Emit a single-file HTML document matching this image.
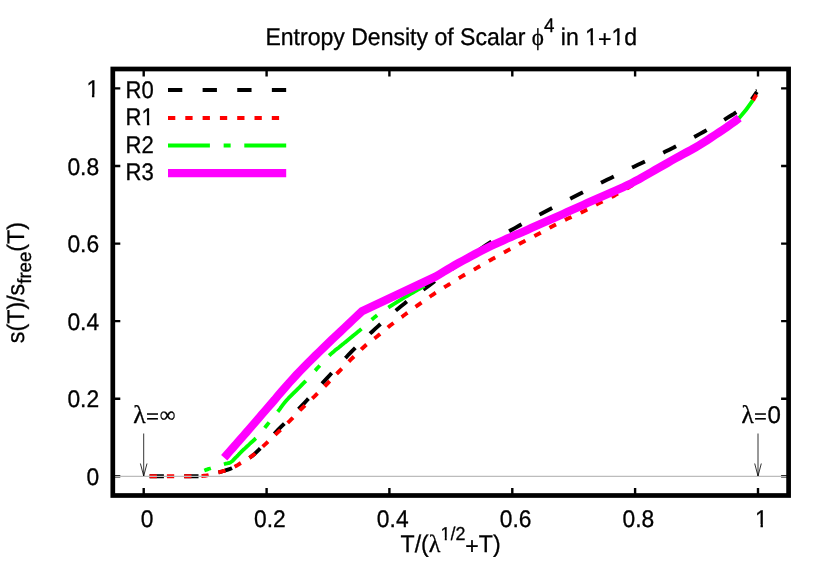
<!DOCTYPE html><html><head><meta charset="utf-8"><title>Entropy Density</title>
<style>html,body{margin:0;padding:0;background:#fff}svg{display:block;will-change:transform}text{font-family:"Liberation Sans",sans-serif;fill:#000;stroke:#000;stroke-width:.3px;text-rendering:geometricPrecision}.sy{font-family:"Liberation Serif",serif}</style></head><body>
<svg width="830" height="581" viewBox="0 0 830 581">
<rect width="830" height="581" fill="#fff"/>
<g stroke="#000" stroke-width="2.4" fill="none"><path d="M143.7,495.5V488.0M143.7,69.0V76.5"/><path d="M112.8,476.3H120.3M788.6,476.3H781.1"/><path d="M266.6,495.5V488.0M266.6,69.0V76.5"/><path d="M112.8,398.7H120.3M788.6,398.7H781.1"/><path d="M389.4,495.5V488.0M389.4,69.0V76.5"/><path d="M112.8,321.1H120.3M788.6,321.1H781.1"/><path d="M512.3,495.5V488.0M512.3,69.0V76.5"/><path d="M112.8,243.6H120.3M788.6,243.6H781.1"/><path d="M635.1,495.5V488.0M635.1,69.0V76.5"/><path d="M112.8,166.0H120.3M788.6,166.0H781.1"/><path d="M758.0,495.5V488.0M758.0,69.0V76.5"/><path d="M112.8,88.4H120.3M788.6,88.4H781.1"/></g>
<g fill="none" stroke-linejoin="round">
<path d="M149.6,476.3 L154.9,476.3 L160.4,476.3 L166.1,476.3 L171.7,476.3 L177.1,476.3 L182.0,476.3 L186.4,476.3 L190.0,476.3 L192.7,476.3 L194.7,476.3 L196.1,476.3 L197.0,476.3 L197.7,476.2 L198.4,476.2 L199.1,476.2 L200.0,476.1 L201.1,476.0 L202.1,476.0 L203.0,475.9 L204.0,475.8 L204.9,475.7 L205.9,475.6 L206.9,475.4 L208.0,475.2 L209.2,474.9 L210.6,474.6 L212.0,474.2 L213.4,473.8 L214.9,473.4 L216.3,473.0 L217.5,472.6 L218.7,472.3 L219.7,472.0 L220.6,471.8 L221.4,471.6 L222.2,471.4 L222.9,471.2 L223.6,471.0 L224.4,470.8 L225.2,470.5 L226.0,470.2 L226.8,470.0 L227.7,469.7 L228.5,469.5 L229.3,469.2 L230.2,468.8 L231.1,468.5 L232.1,468.0 L233.1,467.5 L234.2,467.0 L235.2,466.4 L236.4,465.7 L237.5,465.1 L238.7,464.3 L240.0,463.5 L241.4,462.7 L242.8,461.9 L244.3,461.0 L245.7,460.2 L247.3,459.3 L249.0,458.2 L250.7,457.0 L252.6,455.6 L254.6,453.9 L256.7,451.9 L259.0,449.7 L261.4,447.3 L263.8,444.7 L266.4,442.0 L269.2,439.1 L272.0,436.1 L275.0,433.0 L278.2,429.7 L281.7,426.2 L285.4,422.5 L289.1,418.7 L292.9,414.8 L296.7,411.0 L300.2,407.3 L303.6,403.8 L306.7,400.5 L309.7,397.3 L312.5,394.2 L315.3,391.1 L318.0,388.0 L320.8,385.0 L323.6,381.8 L326.6,378.6 L329.7,375.2 L332.8,371.8 L336.1,368.2 L339.3,364.7 L342.5,361.1 L345.8,357.7 L348.9,354.3 L352.0,351.1 L355.0,348.1 L357.9,345.2 L360.7,342.4 L363.5,339.7 L366.3,337.0 L369.2,334.4 L372.1,331.7 L375.1,328.9 L378.2,326.1 L381.4,323.2 L384.6,320.2 L387.9,317.3 L391.3,314.4 L394.6,311.6 L398.0,308.7 L401.3,306.0 L404.5,303.5 L407.3,301.2 L410.1,299.1 L413.0,297.0 L416.1,294.8 L419.6,292.2 L423.7,289.3 L428.6,285.8 L434.5,281.5 L441.5,276.5 L449.2,271.0 L457.2,265.3 L465.2,259.6 L473.0,254.2 L480.0,249.3 L486.0,245.2 L491.0,241.9 L495.2,239.3 L498.8,237.0 L502.1,235.1 L505.2,233.4 L508.2,231.8 L511.3,230.0 L514.8,228.1 L518.5,226.0 L522.2,223.9 L526.0,221.9 L529.8,219.8 L533.6,217.8 L537.4,215.7 L541.2,213.7 L545.0,211.7 L548.8,209.7 L552.7,207.7 L556.6,205.7 L560.5,203.7 L564.3,201.7 L568.2,199.8 L572.1,197.8 L576.0,195.8 L579.9,193.8 L583.8,191.8 L587.6,189.8 L591.5,187.7 L595.4,185.7 L599.3,183.7 L603.1,181.8 L607.0,179.8 L610.9,177.9 L614.7,176.0 L618.6,174.1 L622.4,172.2 L626.3,170.4 L630.1,168.5 L634.0,166.7 L637.9,164.8 L641.8,162.9 L645.7,161.0 L649.7,159.2 L653.6,157.3 L657.6,155.4 L661.5,153.5 L665.4,151.6 L669.3,149.7 L673.2,147.8 L677.0,145.8 L680.9,143.9 L684.7,142.0 L688.5,140.0 L692.3,138.0 L696.1,136.0 L699.9,133.9 L703.8,131.7 L708.0,129.3 L712.2,126.9 L716.3,124.4 L720.3,122.1 L724.0,119.9 L727.2,117.9 L729.9,116.3 L732.0,115.0 L733.5,114.1 L734.5,113.4 L735.3,112.9 L735.9,112.4 L736.5,112.0 L737.1,111.6 L738.0,111.0" stroke="#000" stroke-width="3.9" stroke-dasharray="14.3 20.32"/>
<path d="M751.7,99.3L756.9,91.9" stroke="#000" stroke-width="3.9"/><path d="M756.6,91.5L756,89.2" stroke="#000" stroke-width="1"/>
<path d="M149.6,476.3 L154.9,476.3 L160.4,476.3 L166.1,476.3 L171.7,476.3 L177.1,476.3 L182.0,476.3 L186.4,476.3 L190.0,476.3 L192.7,476.3 L194.7,476.3 L196.1,476.3 L197.0,476.3 L197.7,476.2 L198.4,476.2 L199.1,476.2 L200.0,476.1 L201.1,476.0 L202.1,476.0 L203.0,475.9 L204.0,475.8 L204.9,475.7 L205.9,475.6 L206.9,475.4 L208.0,475.2 L209.2,474.9 L210.6,474.6 L212.0,474.2 L213.4,473.8 L214.9,473.4 L216.3,473.0 L217.5,472.6 L218.7,472.3 L219.7,472.0 L220.6,471.8 L221.4,471.6 L222.2,471.4 L222.9,471.2 L223.6,471.0 L224.4,470.8 L225.2,470.5 L226.0,470.2 L226.8,470.0 L227.7,469.7 L228.5,469.5 L229.3,469.2 L230.2,468.8 L231.1,468.5 L232.1,468.0 L233.1,467.5 L234.2,467.0 L235.2,466.4 L236.4,465.7 L237.5,465.1 L238.7,464.3 L240.0,463.5 L241.4,462.7 L242.8,461.8 L244.3,461.0 L245.7,460.1 L247.3,459.1 L249.0,458.1 L250.7,456.9 L252.6,455.5 L254.6,453.9 L256.8,452.0 L259.3,449.8 L261.9,447.4 L264.6,444.9 L267.3,442.3 L270.0,439.7 L272.6,437.3 L275.0,435.0 L277.3,432.9 L279.5,430.8 L281.6,428.7 L283.7,426.7 L285.7,424.8 L287.6,422.9 L289.5,421.1 L291.2,419.4 L292.8,417.8 L294.2,416.3 L295.6,414.9 L296.8,413.6 L298.1,412.3 L299.3,411.0 L300.6,409.7 L302.0,408.3 L303.5,406.9 L305.0,405.4 L306.6,403.9 L308.2,402.4 L309.8,400.9 L311.4,399.4 L312.9,397.9 L314.5,396.4 L316.0,394.9 L317.5,393.4 L319.0,392.0 L320.5,390.5 L322.0,389.0 L323.5,387.5 L325.0,386.0 L326.5,384.5 L327.9,383.1 L329.2,381.7 L330.4,380.4 L331.7,379.1 L333.0,377.7 L334.5,376.0 L336.3,374.2 L338.5,372.0 L341.1,369.3 L344.2,366.2 L347.6,362.8 L351.2,359.2 L354.8,355.7 L358.3,352.3 L361.4,349.2 L364.1,346.7 L366.3,344.7 L368.3,343.1 L370.0,341.7 L371.5,340.6 L372.9,339.6 L374.3,338.6 L375.7,337.5 L377.3,336.3 L378.9,334.9 L380.6,333.6 L382.2,332.2 L383.9,330.8 L385.5,329.4 L387.2,328.0 L388.8,326.6 L390.5,325.3 L392.2,324.0 L393.9,322.7 L395.7,321.4 L397.4,320.1 L399.2,318.8 L400.9,317.5 L402.7,316.3 L404.4,315.0 L406.1,313.7 L407.9,312.5 L409.6,311.2 L411.3,309.9 L413.1,308.7 L414.8,307.4 L416.5,306.2 L418.3,304.9 L420.1,303.6 L421.8,302.4 L423.6,301.1 L425.4,299.8 L427.2,298.5 L429.0,297.3 L430.8,296.0 L432.6,294.8 L434.4,293.6 L436.2,292.4 L438.0,291.3 L439.8,290.1 L441.7,289.0 L443.5,287.9 L445.3,286.7 L447.1,285.6 L448.9,284.5 L450.7,283.3 L452.5,282.2 L454.3,281.1 L456.1,279.9 L457.9,278.8 L459.7,277.7 L461.5,276.6 L463.3,275.5 L465.2,274.4 L467.1,273.4 L469.0,272.3 L470.8,271.3 L472.7,270.2 L474.6,269.2 L476.5,268.1 L478.4,267.0 L480.2,266.0 L482.1,264.9 L484.0,263.8 L485.9,262.7 L487.7,261.6 L489.6,260.6 L491.5,259.5 L493.4,258.4 L495.3,257.4 L497.2,256.3 L499.1,255.2 L501.0,254.2 L502.9,253.1 L504.8,252.1 L506.7,251.0 L508.6,249.9 L510.5,248.9 L512.4,247.8 L514.3,246.7 L516.2,245.6 L518.1,244.6 L520.0,243.5 L521.9,242.5 L523.8,241.5 L525.6,240.5 L527.5,239.6 L529.4,238.7 L531.2,237.7 L533.1,236.8 L535.0,235.8 L536.9,234.8 L538.8,233.8 L540.8,232.7 L542.7,231.6 L544.7,230.6 L546.6,229.5 L548.6,228.4 L550.6,227.3 L552.5,226.3 L554.4,225.3 L556.4,224.3 L558.3,223.3 L560.2,222.4 L562.1,221.4 L564.0,220.5 L566.0,219.5 L567.9,218.6 L569.8,217.7 L571.8,216.8 L573.7,216.0 L575.6,215.1 L577.6,214.2 L579.5,213.4 L581.4,212.4 L583.4,211.5 L585.4,210.5 L587.4,209.5 L589.4,208.4 L591.4,207.3 L593.4,206.3 L595.4,205.2 L597.3,204.1 L599.3,203.1 L601.3,202.1 L603.2,201.1 L605.2,200.2 L607.1,199.2 L609.0,198.3 L610.9,197.3 L612.8,196.4 L614.7,195.4 L616.5,194.4 L618.3,193.4 L620.1,192.5 L621.9,191.5 L623.6,190.5 L625.4,189.4 L627.2,188.3 L629.1,187.2 L631.0,186.0 L633.0,184.7 L635.0,183.4 L637.0,182.0 L639.0,180.6 L641.0,179.2 L643.0,177.9 L645.0,176.5" stroke="#f00" stroke-width="3.9" stroke-dasharray="7.3 10.0"/>
<path d="M752.9,100.6L756.3,94.7" stroke="#f00" stroke-width="3.9"/>
<path d="M204.3,470.5 L205.1,470.2 L205.9,469.9 L206.6,469.7 L207.3,469.4 L208.1,469.1 L209.0,468.8 L210.0,468.5 L211.2,468.1 L212.6,467.7 L214.3,467.1 L216.1,466.6 L218.0,466.0 L219.9,465.4 L221.7,464.9 L223.3,464.4 L224.7,464.0 L225.8,463.7 L226.7,463.5 L227.5,463.3 L228.1,463.2 L228.7,463.1 L229.3,462.9 L229.9,462.7 L230.6,462.3 L231.3,461.8 L232.1,461.2 L232.8,460.6 L233.5,459.9 L234.2,459.1 L234.9,458.4 L235.6,457.7 L236.3,457.0 L237.0,456.3 L237.6,455.7 L238.3,455.0 L238.9,454.3 L239.5,453.7 L240.1,453.0 L240.8,452.3 L241.4,451.7 L242.0,451.1 L242.7,450.4 L243.4,449.8 L244.0,449.2 L244.7,448.6 L245.3,448.0 L246.0,447.4 L246.6,446.8 L247.2,446.2 L247.9,445.6 L248.5,445.1 L249.1,444.5 L249.7,443.9 L250.3,443.4 L250.9,442.8 L251.5,442.3 L252.1,441.8 L252.7,441.2 L253.3,440.7 L253.8,440.2 L254.4,439.7 L254.9,439.2 L255.4,438.7 L255.9,438.3 L256.3,437.9 L256.5,437.7 L256.7,437.5 L256.9,437.2 L257.2,437.0 L257.5,436.6 L257.9,436.1 L258.5,435.4 L259.3,434.5 L260.1,433.4 L261.1,432.2 L262.2,430.9 L263.4,429.5 L264.6,428.0 L265.8,426.5 L267.0,425.0 L268.3,423.4 L269.7,421.7 L271.1,420.0 L272.6,418.2 L274.0,416.4 L275.4,414.6 L276.8,412.9 L278.1,411.3 L279.2,409.9 L280.2,408.6 L281.0,407.3 L281.9,406.1 L282.8,404.9 L283.8,403.6 L285.1,402.0 L286.6,400.3 L288.5,398.2 L290.8,395.9 L293.3,393.4 L295.9,390.8 L298.6,388.2 L301.1,385.6 L303.5,383.2 L305.6,381.1 L307.4,379.2 L309.0,377.4 L310.5,375.8 L311.8,374.3 L313.1,372.8 L314.4,371.4 L315.8,369.9 L317.2,368.3 L318.7,366.7 L320.1,365.1 L321.5,363.5 L322.9,361.9 L324.4,360.3 L325.9,358.7 L327.5,357.1 L329.2,355.5 L331.0,353.9 L332.9,352.3 L334.8,350.6 L336.8,349.0 L338.9,347.4 L340.9,345.7 L343.0,344.1 L345.0,342.4 L347.1,340.7 L349.2,339.0 L351.3,337.3 L353.4,335.5 L355.6,333.8 L357.6,332.1 L359.6,330.5 L361.5,328.9 L363.3,327.4 L364.9,325.9 L366.5,324.5 L368.0,323.1 L369.5,321.7 L371.0,320.3 L372.5,319.0 L374.2,317.6 L375.9,316.3 L377.7,314.9 L379.5,313.6 L381.3,312.3 L383.2,311.0 L385.1,309.8 L387.0,308.5 L388.9,307.2 L390.9,305.9 L392.9,304.6 L394.9,303.4 L396.9,302.1 L399.0,300.8 L401.0,299.6 L403.0,298.4 L405.0,297.2 L407.0,296.0 L409.0,294.8 L411.1,293.6 L413.1,292.5 L415.0,291.4 L416.8,290.3 L418.5,289.4 L420.0,288.5 L421.3,287.8 L422.3,287.2 L423.2,286.6 L424.0,286.2 L424.7,285.7 L425.4,285.3 L426.2,284.9 L427.0,284.4" stroke="#0f0" stroke-width="3.8" stroke-dasharray="41.9 13.75 7 13.65" stroke-dashoffset="55.7"/>
<path d="M736.5,120.5L739.2,118Q746.5,110 752.8,100.4" stroke="#0f0" stroke-width="3.8"/>
<path d="M224.2,457.7 L227.0,454.5 L229.7,451.4 L232.5,448.2 L235.3,445.1 L238.0,441.9 L240.8,438.8 L243.6,435.6 L246.3,432.5 L249.0,429.4 L251.6,426.4 L254.2,423.4 L256.8,420.4 L259.4,417.4 L262.1,414.2 L265.0,410.9 L268.0,407.4 L271.2,403.7 L274.6,399.8 L278.0,395.7 L281.6,391.5 L285.3,387.3 L288.9,383.1 L292.7,378.9 L296.4,374.9 L300.1,371.0 L303.9,367.1 L307.8,363.2 L311.6,359.4 L315.5,355.5 L319.5,351.6 L323.5,347.7 L327.6,343.8 L331.7,339.8 L336.0,335.8 L340.3,331.7 L344.6,327.6 L349.0,323.5 L353.3,319.4 L357.7,315.3 L362.0,311.2 L435.2,276.8 L439.2,274.4 L443.2,271.9 L447.2,269.6 L451.2,267.2 L455.2,264.9 L459.2,262.7 L463.2,260.5 L467.2,258.3 L471.2,256.1 L475.2,254.0 L479.2,251.9 L483.2,249.9 L487.2,247.9 L491.2,245.9 L495.2,244.0 L499.2,242.2 L503.2,240.4 L507.2,238.6 L511.2,236.9 L515.2,235.1 L519.2,233.4 L523.2,231.7 L527.2,229.9 L531.2,228.1 L535.2,226.3 L539.2,224.5 L543.2,222.8 L547.2,221.0 L551.2,219.2 L555.2,217.4 L559.2,215.7 L563.2,213.9 L567.2,212.1 L571.2,210.3 L575.2,208.5 L579.2,206.7 L583.2,204.9 L587.2,203.1 L591.2,201.3 L595.2,199.5 L599.2,197.7 L603.2,196.0 L607.2,194.3 L611.2,192.5 L615.2,190.8 L619.2,189.0 L623.2,187.2 L627.2,185.3 L631.2,183.3 L635.2,181.2 L639.2,179.1 L643.2,176.8 L647.2,174.5 L651.2,172.2 L655.2,169.9 L659.2,167.7 L663.2,165.4 L667.2,163.1 L671.2,160.8 L675.2,158.5 L679.2,156.3 L683.2,154.1 L687.2,152.0 L691.2,149.9 L695.2,147.6 L699.2,145.3 L703.2,142.8 L707.2,140.2 L711.2,137.5 L715.2,134.9 L719.2,132.3 L723.2,129.6 L727.2,126.9 L731.2,124.0 L735.2,121.1 L739.2,118.0" stroke="#f0f" stroke-width="8.2" stroke-linejoin="miter"/>
</g>
<path d="M112.8,476.3H788.6" stroke="#bcbcbc" stroke-width="1.3" fill="none"/>
<rect x="112.8" y="69.0" width="675.8" height="426.5" fill="none" stroke="#000" stroke-width="4.7"/>
<g fill="none">
<path d="M168.0,90.05H286.2" stroke="#000" stroke-width="3.9" stroke-dasharray="14.3 20.32"/>
<path d="M168.0,118H286.2" stroke="#f00" stroke-width="3.9" stroke-dasharray="7.3 10.0"/>
<path d="M168.0,145.5H286.2" stroke="#0f0" stroke-width="3.8" stroke-dasharray="41.9 13.75 7 13.65"/>
<path d="M168.0,173.2H286.2" stroke="#f0f" stroke-width="8.2"/>
</g>
<g transform="translate(125.60,98.30) scale(0.920,1.000)"><text font-size="24.00" text-anchor="start">R0</text></g>
<g transform="translate(125.60,125.30) scale(0.920,1.000)"><text font-size="24.00" text-anchor="start">R1</text><path fill="#fff" d="M18.05,-2.59h5.10v4.59h-5.10zM25.71,-2.59h4.95v4.59h-4.95z"/></g>
<g transform="translate(125.60,153.20) scale(0.920,1.000)"><text font-size="24.00" text-anchor="start">R2</text></g>
<g transform="translate(125.60,180.40) scale(0.920,1.000)"><text font-size="24.00" text-anchor="start">R3</text></g>
<path d="M143.7,433.5V476M140.4,463.5L143.7,476L147.0,463.5" stroke="#000" stroke-width="0.8" fill="none"/>
<path d="M758.0,433.5V476M754.7,463.5L758.0,476L761.3,463.5" stroke="#000" stroke-width="0.8" fill="none"/>
<g transform="translate(147.00,526.60) scale(0.950,1.000)"><text font-size="24.00" text-anchor="middle">0</text></g>
<g transform="translate(99.10,484.90) scale(0.950,1.000)"><text font-size="24.00" text-anchor="end">0</text></g>
<g transform="translate(269.86,526.60) scale(0.950,1.000)"><text font-size="24.00" text-anchor="middle">0.2</text></g>
<g transform="translate(99.10,407.32) scale(0.950,1.000)"><text font-size="24.00" text-anchor="end">0.2</text></g>
<g transform="translate(392.72,526.60) scale(0.950,1.000)"><text font-size="24.00" text-anchor="middle">0.4</text></g>
<g transform="translate(99.10,329.74) scale(0.950,1.000)"><text font-size="24.00" text-anchor="end">0.4</text></g>
<g transform="translate(515.58,526.60) scale(0.950,1.000)"><text font-size="24.00" text-anchor="middle">0.6</text></g>
<g transform="translate(99.10,252.16) scale(0.950,1.000)"><text font-size="24.00" text-anchor="end">0.6</text></g>
<g transform="translate(638.44,526.60) scale(0.950,1.000)"><text font-size="24.00" text-anchor="middle">0.8</text></g>
<g transform="translate(99.10,174.58) scale(0.950,1.000)"><text font-size="24.00" text-anchor="end">0.8</text></g>
<g transform="translate(761.30,526.60) scale(0.950,1.000)"><text font-size="24.00" text-anchor="middle">1</text><path fill="#fff" d="M-5.96,-2.59h5.10v4.59h-5.10zM1.70,-2.59h4.95v4.59h-4.95z"/></g>
<g transform="translate(99.10,97.00) scale(0.950,1.000)"><text font-size="24.00" text-anchor="end">1</text><path fill="#fff" d="M-12.64,-2.59h5.10v4.59h-5.10zM-4.98,-2.59h4.95v4.59h-4.95z"/></g>
<g transform="translate(265.40,44.60) scale(0.960,1.000)"><text font-size="24.00" text-anchor="start">Entropy Density of Scalar <tspan class="sy">ϕ</tspan><tspan dy="-13" font-size="19.6">4</tspan><tspan dy="13"> in 1</tspan><tspan dy="2">+</tspan><tspan dy="-2">1d</tspan></text><path fill="#fff" d="M333.74,-2.59h5.10v4.59h-5.10zM341.40,-2.59h4.95v4.59h-4.95z"/><path fill="#fff" d="M361.11,-2.59h5.10v4.59h-5.10zM368.77,-2.59h4.95v4.59h-4.95z"/></g>
<g transform="translate(400.60,551.80) scale(0.962,1.000)"><text font-size="24.00" text-anchor="start">T/(<tspan class="sy" font-size="25">λ</tspan><tspan dy="-12" font-size="18.6">1/2</tspan><tspan dy="14">+</tspan><tspan dy="-2">T)</tspan></text><path fill="#fff" d="M42.01,-14.19h3.90v4.19h-3.90zM47.99,-14.19h3.78v4.19h-3.78z"/></g>
<g transform="translate(23.80,343.20) scale(1.000,0.969) rotate(-90)"><text font-size="24.00" text-anchor="start">s(T)/s<tspan dy="7.3" font-size="19.2">free</tspan><tspan dy="-7.3">(T)</tspan></text></g>
<g transform="translate(133.30,422.50) scale(1.000,1.000)"><text font-size="23.00" text-anchor="start"><tspan class="sy" font-size="25.5">λ</tspan><tspan class="sy" dx="0.3" dy="1.8">=</tspan><tspan class="sy" dx="0.9" dy="-2.2" font-size="22">∞</tspan></text></g>
<g transform="translate(741.50,422.50) scale(0.990,1.000)"><text font-size="23.00" text-anchor="start"><tspan class="sy" font-size="25.5">λ</tspan><tspan class="sy" dx="0.3" dy="1.8">=</tspan><tspan dy="-1.8" dx="0.6" font-size="24.3">0</tspan></text></g>
</svg></body></html>
